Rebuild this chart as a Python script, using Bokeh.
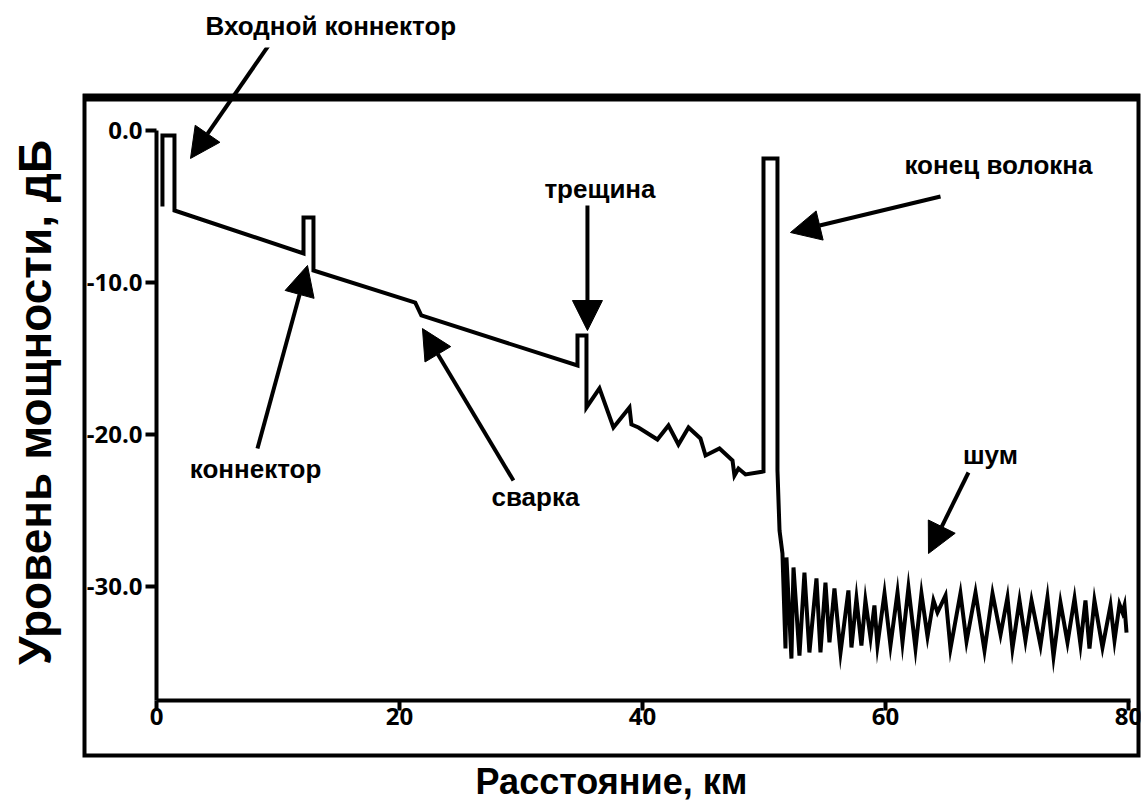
from bokeh.plotting import figure
from bokeh.models import (LinearAxis, SingleIntervalTicker, FixedTicker, PrintfTickFormatter,
                          Range1d, LabelSet, Arrow, NormalHead, ColumnDataSource, BoxAnnotation)
from bokeh.core.properties import value
from bokeh.embed import file_html
from bokeh.resources import INLINE

# OTDR trace: distance (km) and power level (dB)
dist_km = [0.49, 0.49, 1.48, 1.48, 12.10, 12.10, 12.92, 12.92, 21.30, 21.80,
           34.65, 34.65, 35.39, 35.39, 36.46, 37.61, 38.93, 39.09, 39.67, 41.23,
           42.14, 42.96, 43.79, 44.77, 45.19, 46.34, 47.41, 47.57, 47.90, 48.48,
           49.96, 49.96, 51.11, 51.11, 51.28, 51.52,
           51.77, 51.85, 52.26, 52.43, 52.92, 53.33, 53.74, 54.32, 54.65, 55.06,
           55.39, 55.80, 56.30, 56.95, 57.20, 57.61, 58.02, 58.35, 58.77, 59.09,
           59.34, 59.92, 60.41, 60.99, 61.40, 61.89, 62.47, 62.96, 63.46, 63.95,
           64.28, 64.94, 65.35, 66.17, 66.67, 67.41, 68.15, 68.81, 69.47, 70.04,
           70.45, 71.03, 71.52, 72.02, 72.76, 73.33, 73.83, 74.40, 74.98, 75.56,
           76.05, 76.46, 76.79, 77.20, 77.86, 78.52, 78.85, 79.26, 79.51, 79.67,
           79.84]
level_db = [-5.00, -0.33, -0.33, -5.26, -8.09, -5.72, -5.72, -9.21, -11.32, -12.17,
            -15.46, -13.49, -13.49, -18.22, -16.97, -19.54, -18.22, -19.34, -19.54, -20.33,
            -19.41, -20.66, -19.54, -20.26, -21.38, -20.92, -21.71, -22.70, -22.24, -22.63,
            -22.43, -1.84, -1.84, -22.37, -26.32, -27.83,
            -34.08, -28.09, -34.74, -28.75, -34.54, -29.08, -34.34, -29.47, -34.34, -29.74,
            -33.68, -30.13, -34.34, -30.26, -34.01, -30.79, -33.88, -30.92, -33.36, -31.25,
            -33.88, -30.46, -33.88, -30.39, -33.68, -30.07, -34.08, -30.46, -33.29, -30.92,
            -31.71, -30.59, -34.08, -30.46, -33.62, -30.39, -34.21, -30.46, -33.16, -30.72,
            -34.08, -30.92, -33.55, -30.92, -33.88, -30.72, -34.61, -31.05, -33.68, -30.79,
            -33.82, -30.92, -34.08, -30.92, -34.01, -31.25, -33.55, -31.18, -31.71, -31.25,
            -33.03]

# Event annotations (the first one is written above the chart box)
top_event = "Входной коннектор"
event_names = ["коннектор", "сварка", "трещина", "конец волокна", "шум"]
event_text_x = [8.15, 31.19, 36.50, 69.30, 68.64]
event_text_y = [-22.24, -24.14, -3.82, -2.30, -21.38]
arrow_from_x = [9.22, 8.31, 29.38, 35.47, 64.53, 66.83]
arrow_from_y = [5.59, -20.92, -23.03, -4.93, -4.34, -22.50]
arrow_to_x = [2.80, 12.43, 21.89, 35.47, 52.18, 63.54]
arrow_to_y = [-1.84, -8.88, -13.03, -13.16, -6.71, -27.83]

x_title = "Расстояние, км"
y_title = "Уровень мощности, дБ"

text_font = "Liberation Sans"
tick_font = "Open Sans"

p = figure(width=1145, height=805, output_backend="svg", toolbar_location=None,
           x_range=Range1d(-6.09, 80.99), y_range=Range1d(-41.25, 5.46),
           x_axis_type=None, y_axis_type=None,
           min_border_left=82, min_border_right=5, min_border_top=47, min_border_bottom=48)
p.outline_line_color = None
p.background_fill_color = "white"
p.border_fill_color = "white"

p.title.text = top_event
p.title.align = "left"
p.title.offset = 123
p.title.standoff = 13
p.title.text_font = text_font
p.title.text_font_style = "bold"
p.title.text_font_size = "26px"
p.title.text_color = "black"

# chart box (top edge sits below the annotation text)
p.add_layout(BoxAnnotation(top=2.17, fill_color=None, fill_alpha=0,
                           line_color="black", line_alpha=1.0, line_width=8))

xax = LinearAxis(fixed_location=-37.5, bounds=(0, 80.2),
                 ticker=SingleIntervalTicker(interval=20, num_minor_ticks=0),
                 axis_line_width=4, major_tick_line_width=4, major_tick_out=10, major_tick_in=0,
                 minor_tick_line_color=None,
                 major_label_text_font=tick_font, major_label_text_font_style="bold",
                 major_label_text_font_size="24px", major_label_text_color="black",
                 major_label_standoff=-2)
p.add_layout(xax, "below")

yax = LinearAxis(fixed_location=0, bounds=(-37.5, 0),
                 ticker=SingleIntervalTicker(interval=10, num_minor_ticks=0),
                 formatter=PrintfTickFormatter(format="%.1f"),
                 axis_line_width=4, major_tick_line_width=4, major_tick_out=11, major_tick_in=0,
                 minor_tick_line_color=None,
                 major_label_text_font=tick_font, major_label_text_font_style="bold",
                 major_label_text_font_size="24px", major_label_text_color="black",
                 major_label_standoff=3)
p.add_layout(yax, "left")

def title_axis(label, standoff, size):
    return LinearAxis(axis_label=label, ticker=FixedTicker(ticks=[]),
                      axis_line_color=None, major_tick_line_color=None, minor_tick_line_color=None,
                      major_tick_out=0, major_tick_in=0, minor_tick_out=0, minor_tick_in=0,
                      major_label_text_font_size="0px", major_label_standoff=0,
                      axis_label_standoff=standoff, axis_label_text_font=text_font,
                      axis_label_text_font_style="bold", axis_label_text_font_size=size,
                      axis_label_text_color="black")

p.add_layout(title_axis(y_title, 22, "46px"), "left")
p.add_layout(title_axis(x_title, 3, "36px"), "below")

p.line(dist_km, level_db, line_width=4, line_color="black", line_join="miter")

arrow_src = ColumnDataSource(dict(x0=arrow_from_x, y0=arrow_from_y, x1=arrow_to_x, y1=arrow_to_y))
p.add_layout(Arrow(end=NormalHead(size=30, fill_color="black", line_color="black", line_width=1),
                   x_start="x0", y_start="y0", x_end="x1", y_end="y1",
                   line_width=4, line_color="black", source=arrow_src))

label_src = ColumnDataSource(dict(x=event_text_x, y=event_text_y, t=event_names))
p.add_layout(LabelSet(x="x", y="y", text="t", source=label_src,
                      text_align="center", text_baseline="middle",
                      text_font=value(text_font), text_font_style="bold",
                      text_font_size="26px", text_color="black"))

open("out.html", "w").write(file_html(p, INLINE))
